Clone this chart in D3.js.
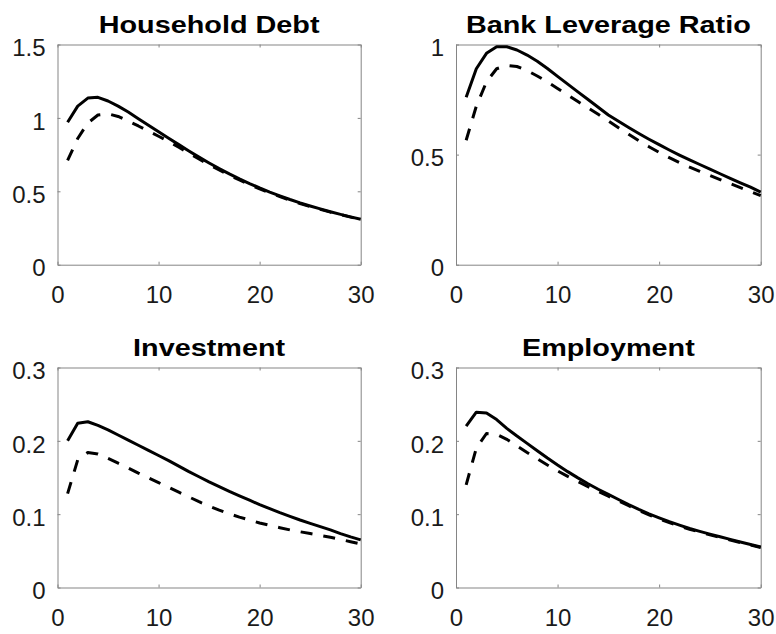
<!DOCTYPE html>
<html>
<head>
<meta charset="utf-8">
<script src="https://cdn.jsdelivr.net/npm/d3@7"></script>
<style>
  html, body { margin: 0; padding: 0; background: #fff; }
  svg { display: block; }
  .tick text { font-family: "Liberation Sans", Arial, sans-serif; font-size: 24px; fill: #1a1a1a; }
  .title { font-family: "Liberation Sans", Arial, sans-serif; font-size: 24px; font-weight: bold; fill: #000; }
</style>
</head>
<body>
<svg id="chart" width="776" height="634"></svg>
<script>
// Horizon (quarters after the shock)
const periods = [1,2,3,4,5,6,7,8,9,10,11,12,13,14,15,16,17,18,19,20,21,22,23,24,25,26,27,28,29,30];
const xTicks = [0, 10, 20, 30];

const panelTitles = ["Household Debt", "Bank Leverage Ratio", "Investment", "Employment"];

// Household Debt
const debtSolid = [0.97,1.08,1.135,1.14,1.115,1.08,1.04,0.995,0.95,0.905,0.862,0.818,0.775,0.733,0.693,0.655,0.619,0.585,0.553,0.523,0.495,0.469,0.444,0.421,0.400,0.380,0.361,0.343,0.326,0.310];
const debtDashed = [0.71,0.86,0.965,1.02,1.028,1.01,0.978,0.945,0.91,0.875,0.84,0.80,0.76,0.72,0.682,0.645,0.61,0.577,0.546,0.517,0.49,0.464,0.44,0.417,0.396,0.377,0.358,0.341,0.324,0.308];
const debtTicks = [0, 0.5, 1, 1.5];

// Bank Leverage Ratio
const levSolid = [0.76,0.89,0.96,0.99,0.99,0.975,0.952,0.924,0.891,0.855,0.82,0.785,0.75,0.715,0.68,0.651,0.623,0.596,0.57,0.545,0.521,0.498,0.476,0.455,0.434,0.413,0.392,0.372,0.352,0.33];
const levDashed = [0.565,0.72,0.83,0.89,0.905,0.90,0.882,0.857,0.83,0.80,0.771,0.741,0.712,0.683,0.653,0.622,0.592,0.563,0.536,0.51,0.486,0.464,0.443,0.424,0.405,0.386,0.368,0.35,0.332,0.314];
const levTicks = [0, 0.5, 1];

// Investment
const invSolid = [0.200,0.224,0.226,0.221,0.215,0.208,0.201,0.194,0.187,0.180,0.173,0.1655,0.158,0.151,0.144,0.1375,0.131,0.125,0.119,0.113,0.1075,0.102,0.097,0.092,0.0875,0.083,0.0785,0.0735,0.069,0.065];
const invDashed = [0.128,0.174,0.184,0.182,0.176,0.1695,0.163,0.156,0.1495,0.143,0.1365,0.130,0.1235,0.117,0.111,0.1055,0.1005,0.096,0.092,0.088,0.0847,0.0815,0.0785,0.076,0.0735,0.071,0.0685,0.0655,0.0625,0.0595];
const invTicks = [0, 0.1, 0.2, 0.3];

// Employment
const empSolid = [0.220,0.239,0.238,0.229,0.217,0.2065,0.1965,0.1865,0.1765,0.167,0.158,0.1495,0.1415,0.134,0.127,0.120,0.113,0.1065,0.1005,0.095,0.0898,0.085,0.0805,0.0765,0.0728,0.0692,0.0656,0.0621,0.0587,0.0553];
const empDashed = [0.140,0.190,0.210,0.209,0.202,0.193,0.184,0.1755,0.167,0.159,0.1515,0.1445,0.1375,0.131,0.1245,0.118,0.1115,0.105,0.099,0.0935,0.0885,0.0838,0.0795,0.0755,0.0718,0.0682,0.0646,0.0612,0.0578,0.0545];
const empTicks = [0, 0.1, 0.2, 0.3];

const panels = [
  { title: panelTitles[0], solid: debtSolid, dashed: debtDashed, yTicks: debtTicks, col: 0, row: 0 },
  { title: panelTitles[1], solid: levSolid,  dashed: levDashed,  yTicks: levTicks,  col: 1, row: 0 },
  { title: panelTitles[2], solid: invSolid,  dashed: invDashed,  yTicks: invTicks,  col: 0, row: 1 },
  { title: panelTitles[3], solid: empSolid,  dashed: empDashed,  yTicks: empTicks,  col: 1, row: 1 }
];

// Plot-box geometry for the 2x2 grid
const colX = [[57.5, 360.7], [456, 760.7]];
const rowY = [[44.5, 264.7], [367.5, 587.5]];
const axisColor = "#858585";
const tickLen = 3;

const svg = d3.select("#chart");

panels.forEach(p => {
  const [xl, xr] = colX[p.col];
  const [yt, yb] = rowY[p.row];
  const x = d3.scaleLinear().domain([0, 30]).range([xl, xr]);
  const y = d3.scaleLinear().domain([0, d3.max(p.yTicks)]).range([yb, yt]);

  const g = svg.append("g");

  const fmt = v => String(v);

  // bottom axis with labels
  g.append("g").attr("transform", `translate(0,${yb})`)
    .call(d3.axisBottom(x).tickValues(xTicks).tickFormat(fmt).tickSizeInner(-tickLen).tickSizeOuter(0).tickPadding(21));
  // left axis with labels
  g.append("g").attr("transform", `translate(${xl},0)`)
    .call(d3.axisLeft(y).tickValues(p.yTicks).tickFormat(fmt).tickSizeInner(-tickLen).tickSizeOuter(0).tickPadding(12))
    .selectAll(".tick text").attr("dy", "0.47em");
  // top and right axes: ticks only (box)
  g.append("g").attr("transform", `translate(0,${yt})`)
    .call(d3.axisTop(x).tickValues(xTicks).tickFormat("").tickSizeInner(-tickLen).tickSizeOuter(0));
  g.append("g").attr("transform", `translate(${xr},0)`)
    .call(d3.axisRight(y).tickValues(p.yTicks).tickFormat("").tickSizeInner(-tickLen).tickSizeOuter(0));

  g.selectAll(".domain, .tick line").attr("stroke", axisColor).attr("stroke-width", 1);
  g.selectAll(".tick text").attr("fill", "#1a1a1a").style("font-size", "24px");
  g.selectAll("g").attr("font-family", null).attr("font-size", null);

  const line = d3.line()
    .x((d, i) => x(periods[i]))
    .y(d => y(d))
    .curve(d3.curveLinear);

  g.append("path").datum(p.dashed)
    .attr("d", line)
    .attr("fill", "none")
    .attr("stroke", "#000")
    .attr("stroke-width", 3)
    .attr("stroke-dasharray", "12,11")
    .attr("stroke-linejoin", "round");

  g.append("path").datum(p.solid)
    .attr("d", line)
    .attr("fill", "none")
    .attr("stroke", "#000")
    .attr("stroke-width", 3)
    .attr("stroke-linejoin", "round");

  // panel title, widened to the heavy face used for headings
  const cx = (xl + xr) / 2;
  g.append("text")
    .attr("class", "title")
    .attr("text-anchor", "middle")
    .attr("transform", `translate(${cx},${yt - 12}) scale(1.2,1)`)
    .text(p.title);
});
</script>
</body>
</html>
